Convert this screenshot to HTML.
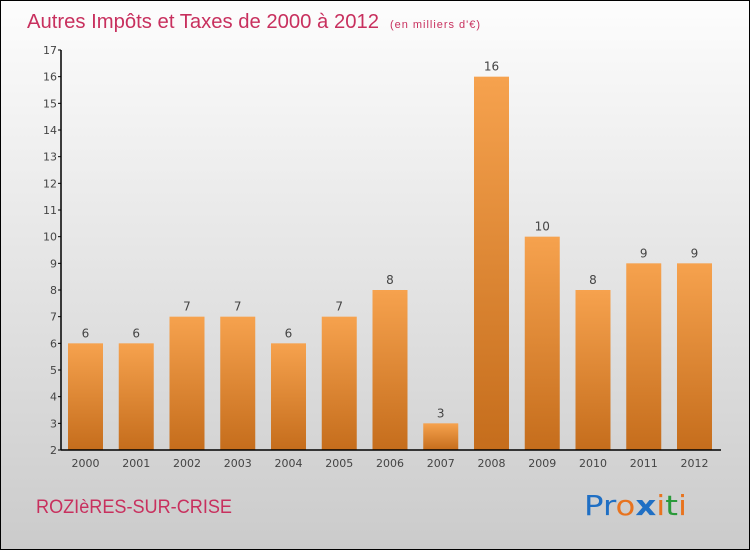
<!DOCTYPE html>
<html><head><meta charset="utf-8"><style>
body{margin:0}
#c{width:748px;height:548px;border:1px solid #000;background:linear-gradient(#fdfdfd,#cbcbcb);position:relative;font-family:"DejaVu Sans","Liberation Sans",sans-serif;overflow:hidden}
</style></head><body>
<div id="c">
<svg width="748" height="548" style="position:absolute;left:0;top:0">
<defs><linearGradient id="g" x1="0" y1="0" x2="0" y2="1"><stop offset="0" stop-color="#f6a24e"/><stop offset="1" stop-color="#c56d1c"/></linearGradient></defs>
<text x="26" y="27" font-size="20" fill="#c8305e" font-family="Liberation Sans, sans-serif" textLength="352" lengthAdjust="spacingAndGlyphs">Autres Impôts et Taxes de 2000 à 2012</text>
<text x="389" y="27" font-size="11" fill="#c8305e" font-family="Liberation Sans, sans-serif" textLength="90">(en milliers d'€)</text>
<g id="plot"></g>
<text x="35" y="512" font-size="19" fill="#c8305e" font-family="Liberation Sans, sans-serif" textLength="196" lengthAdjust="spacingAndGlyphs">ROZIèRES-SUR-CRISE</text>
<text x="583" y="514" font-size="28" textLength="103" lengthAdjust="spacingAndGlyphs"><tspan fill="#1f6fc4">Pr</tspan><tspan fill="#e8731e">o</tspan><tspan fill="#1f6fc4" font-weight="bold">x</tspan><tspan fill="#e8731e">i</tspan><tspan fill="#2a9a3a">t</tspan><tspan fill="#e8731e">i</tspan></text>
</svg></div>
<script>
const years=["2000","2001","2002","2003","2004","2005","2006","2007","2008","2009","2010","2011","2012"];
const values=[6,6,7,7,6,7,8,3,16,10,8,9,9];
const yTicks=[2,3,4,5,6,7,8,9,10,11,12,13,14,15,16,17];
const NS="http://www.w3.org/2000/svg",p=document.getElementById('plot');
const y=v=>449-(v-2)*(400/15), x=i=>67+i*50.75;
function mk(t,a,par){const e=document.createElementNS(NS,t);for(const k in a)e.setAttribute(k,a[k]);(par||p).appendChild(e);return e;}
values.forEach((v,i)=>{
 const r=mk('rect',{x:x(i),y:y(v),width:35,height:y(2)-y(v),fill:'url(#g)'});
 
 
 const t=mk('text',{x:x(i)+17.5,y:y(v)-6,'font-size':12,fill:'#444','text-anchor':'middle'});t.textContent=v;
 
 
 const l=mk('text',{x:x(i)+17.5,y:466,'font-size':11,fill:'#444','text-anchor':'middle'});l.textContent=years[i];
 
 
});
yTicks.forEach(v=>{
 mk('line',{x1:57,x2:60,y1:y(v),y2:y(v),stroke:'#000'});
 const t=mk('text',{x:56,y:y(v)+4,'font-size':11,fill:'#444','text-anchor':'end'});t.textContent=v;
 
 
});
const ya=mk('line',{x1:60,x2:60,y1:y(17),y2:y(2),stroke:'#000','stroke-width':1.5});


const xa=mk('line',{x1:60,x2:720,y1:y(2),y2:y(2),stroke:'#000','stroke-width':1.5});


</script>
</body></html>
